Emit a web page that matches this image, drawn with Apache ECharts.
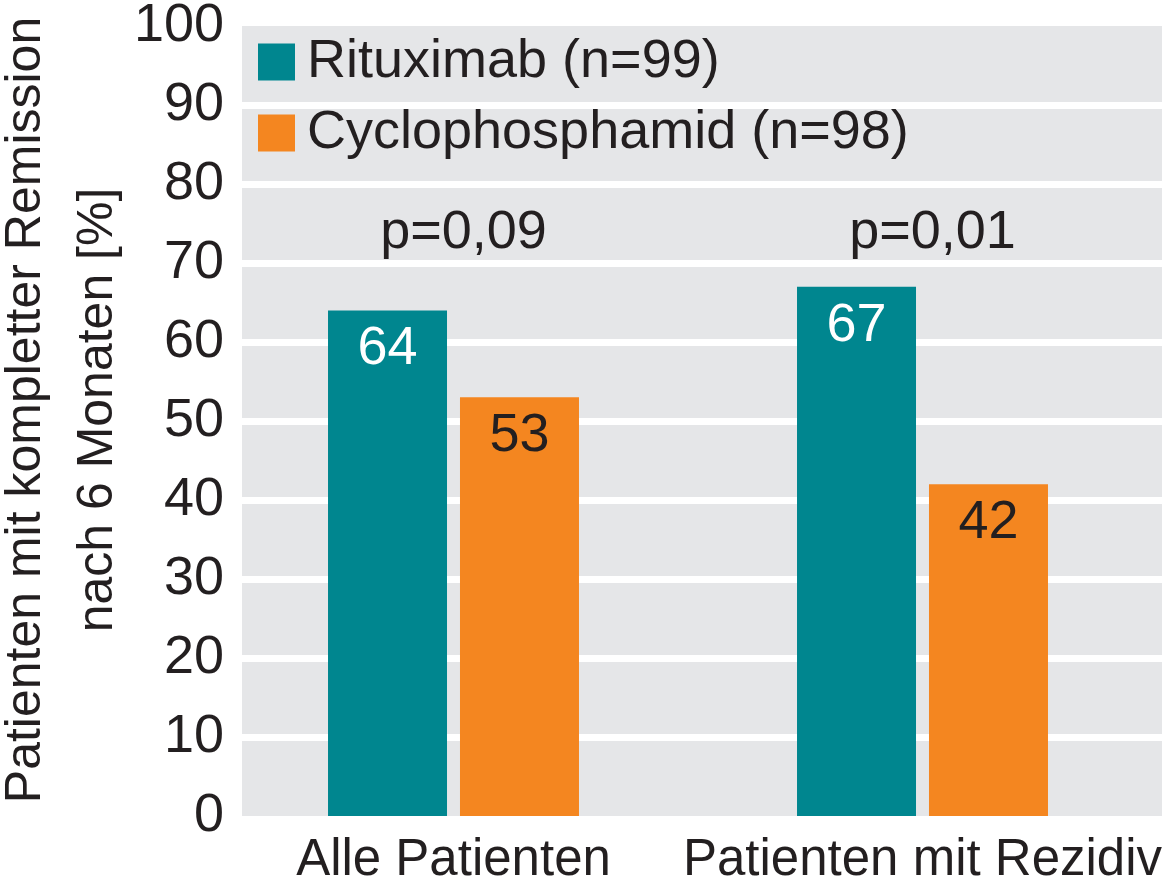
<!DOCTYPE html>
<html>
<head>
<meta charset="utf-8">
<script src="https://cdn.jsdelivr.net/npm/echarts@6/dist/echarts.min.js"></script>
<style>
html,body{margin:0;padding:0;background:#fff;}
#chart{width:1162px;height:882px;}
</style>
</head>
<body>
<div id="chart"></div>
<script>
const categories = ['Alle Patienten', 'Patienten mit Rezidiv'];
const seriesNames = ['Rituximab (n=99)', 'Cyclophosphamid (n=98)'];
const rituximab = [64, 67];
const cyclophosphamid = [53, 42];
const pValues = ['p=0,09', 'p=0,01'];
const yMin = 0, yMax = 100, yStep = 10;
const yAxisTitle = 'Patienten mit kompletter Remission\nnach 6 Monaten [%]';

const FONT = "'Liberation Sans', Arial, sans-serif";
const TEXT = '#231f20';
const TEAL = '#00868f';
const ORANGE = '#f48620';
const GRAY = '#e5e6e8';
const pLevel = 73.8;

const chart = echarts.init(document.getElementById('chart'), null, {renderer: 'canvas'});
const option = {
  animation: false,
  backgroundColor: '#fff',
  textStyle: {fontFamily: FONT},
  grid: [
    {left: 219, width: 938, top: 26, bottom: 66, containLabel: false, outerBoundsMode: 'none'},
    {left: 242, right: 0, top: 26, bottom: 66, containLabel: false, outerBoundsMode: 'none', show: true, backgroundColor: GRAY, borderWidth: 0}
  ],
  legend: {
    orient: 'vertical',
    left: 253, top: 30,
    itemWidth: 37, itemHeight: 37, itemGap: 17,
    icon: 'rect',
    data: seriesNames,
    selectedMode: false,
    textStyle: {fontFamily: FONT, fontSize: 54, color: TEXT, padding: [0, 0, 0, 7]}
  },
  xAxis: [
    {
      type: 'category', gridIndex: 0, data: categories,
      axisLine: {show: false}, axisTick: {show: false},
      axisLabel: {interval: 0, hideOverlap: false, fontFamily: FONT, fontSize: 51, color: TEXT, margin: 19}
    },
    {type: 'value', gridIndex: 1, show: false, min: 0, max: 1}
  ],
  yAxis: [
    {type: 'value', gridIndex: 0, min: yMin, max: yMax, interval: yStep, show: false},
    {
      type: 'value', gridIndex: 1, min: yMin, max: yMax, interval: yStep,
      axisLine: {show: false}, axisTick: {show: false},
      axisLabel: {fontFamily: FONT, fontSize: 54, color: TEXT, margin: 18, padding: [0, 0, 10, 0]},
      splitLine: {show: true, showMinLine: false, showMaxLine: false, lineStyle: {color: '#ffffff', width: 7}},
      name: yAxisTitle,
      nameLocation: 'middle',
      nameGap: 108,
      nameMoveOverlap: false,
      nameTextStyle: {fontFamily: FONT, fontSize: 50, color: TEXT, lineHeight: 72, padding: [0, 0, 0, 22]}
    }
  ],
  series: [
    {
      name: seriesNames[0], type: 'bar', xAxisIndex: 0, yAxisIndex: 0,
      data: rituximab, barWidth: 119, barGap: '10.9%',
      itemStyle: {color: TEAL},
      label: {show: true, position: 'insideTop', distance: 12, fontFamily: FONT, fontSize: 54, color: '#ffffff'}
    },
    {
      name: seriesNames[1], type: 'bar', xAxisIndex: 0, yAxisIndex: 0,
      data: cyclophosphamid, barWidth: 119, barGap: '10.9%',
      itemStyle: {color: ORANGE},
      label: {show: true, position: 'insideTop', distance: 12, fontFamily: FONT, fontSize: 54, color: TEXT}
    },
    {
      name: 'p', type: 'scatter', xAxisIndex: 0, yAxisIndex: 0,
      symbolSize: 1, itemStyle: {color: 'rgba(0,0,0,0)', opacity: 1},
      silent: true,
      data: categories.map((c, i) => [c, pLevel]),
      label: {
        show: true, position: 'inside', offset: [10, 0], opacity: 1,
        fontFamily: FONT, fontSize: 54, color: TEXT,
        formatter: (p) => pValues[p.dataIndex]
      }
    }
  ]
};
chart.setOption(option);
</script>
</body>
</html>
